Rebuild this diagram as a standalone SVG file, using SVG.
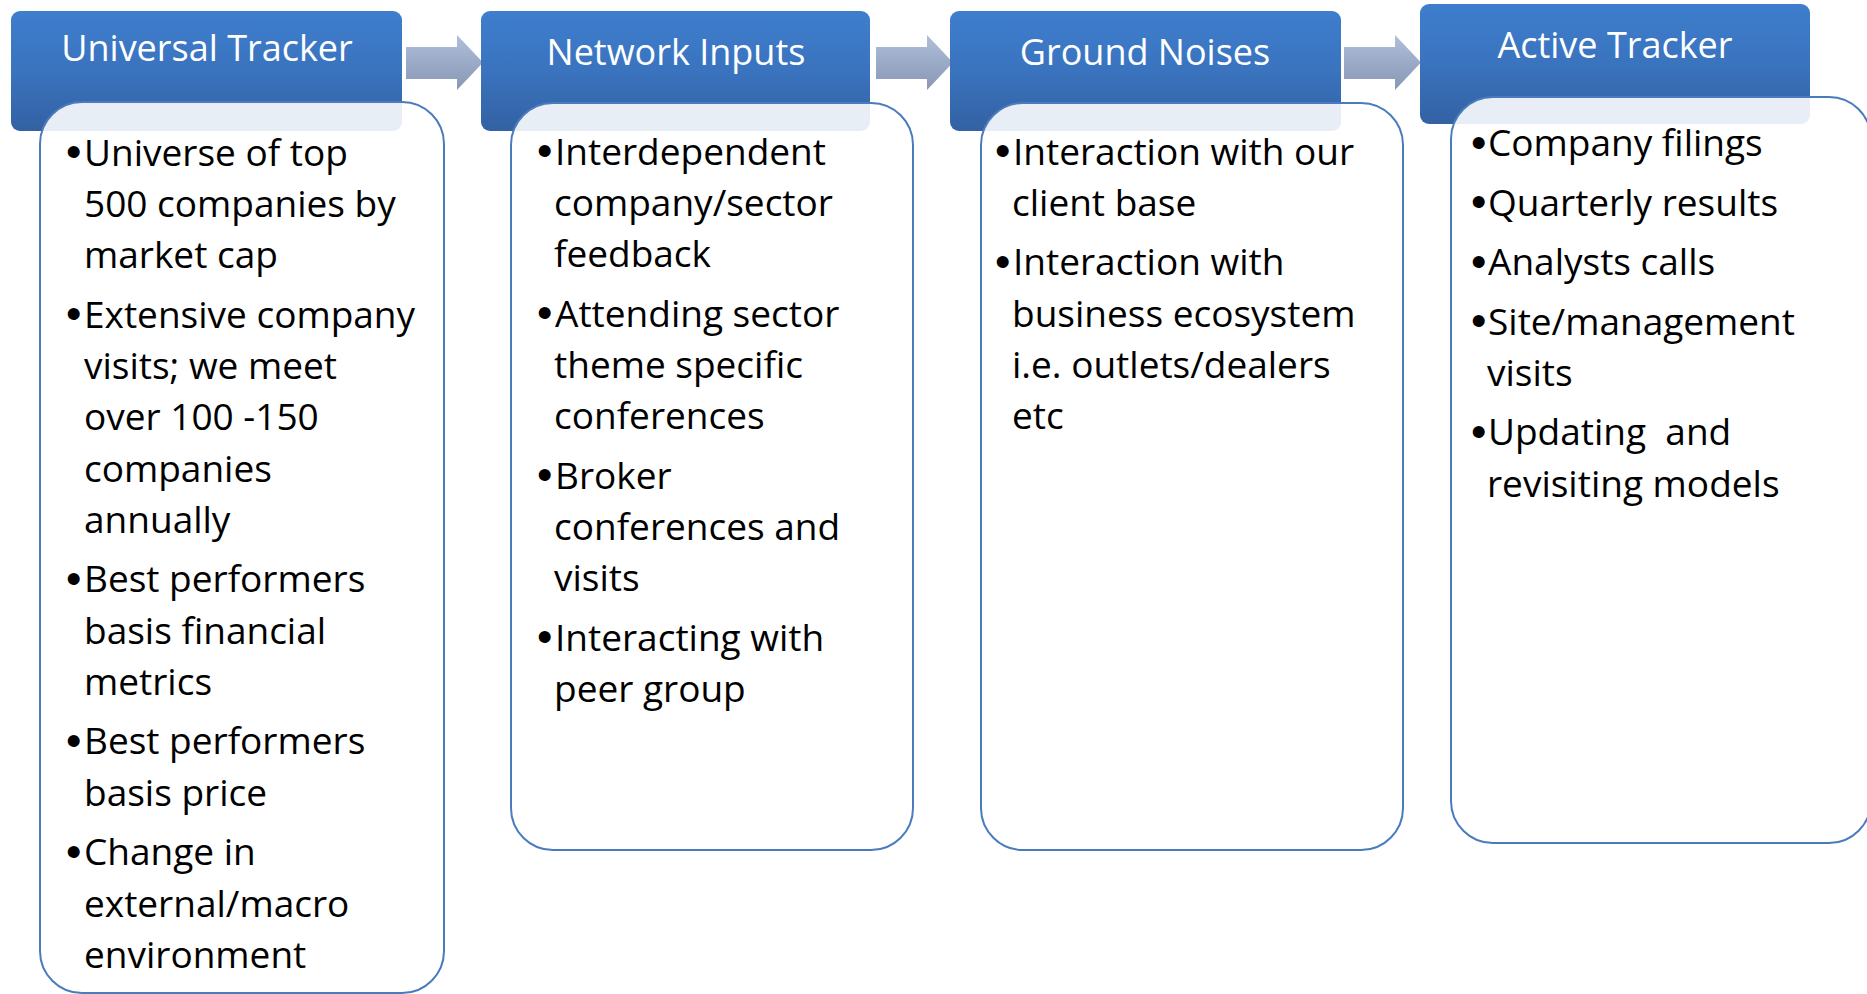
<svg xmlns="http://www.w3.org/2000/svg" width="1867" height="994" viewBox="0 0 1867 994">
<defs>
<linearGradient id="hg" x1="0" y1="0" x2="0" y2="1">
<stop offset="0" stop-color="#3e7ecd"/>
<stop offset="0.5" stop-color="#3a73be"/>
<stop offset="1" stop-color="#3361a3"/>
</linearGradient>
<linearGradient id="ag" x1="0" y1="0" x2="0" y2="1">
<stop offset="0" stop-color="#b0bfda"/>
<stop offset="1" stop-color="#8797b4"/>
</linearGradient>
<style>
.hdr{fill:url(#hg)}
.ht{font-family:"Open Sans","Liberation Sans",sans-serif;font-size:36px;fill:#ffffff;text-anchor:middle}
.bd{fill:#ffffff;fill-opacity:0.89;stroke:#4a7cbd;stroke-width:2}
.bt{font-family:"Open Sans","Liberation Sans",sans-serif;font-size:37px;fill:#000000;white-space:pre}
.bl{font-family:"Liberation Sans",sans-serif;font-size:44px}
.ar{fill:url(#ag)}
</style>
</defs>
<rect width="1867" height="994" fill="#ffffff"/>
<g id="connectors">
<path class="ar" d="M406,47 H457 V35 L483,62.5 L457,90 V79 H406 Z"/>
<path class="ar" d="M876,47 H927 V35 L953,62.5 L927,90 V79 H876 Z"/>
<path class="ar" d="M1344,47 H1395 V35 L1421,62.5 L1395,90 V79 H1344 Z"/>
</g>
<g id="node-universal-tracker">
<rect class="hdr" x="11" y="11" width="391" height="120" rx="9"/>
<text class="ht" x="207" y="61">Universal Tracker</text>
<rect class="bd" x="40" y="102" width="404" height="891" rx="42"/>
<text class="bt">
<tspan class="bl" x="66" y="167">•</tspan><tspan x="84" y="165.5">Universe of top</tspan>
<tspan x="84" y="216.8">500 companies by</tspan>
<tspan x="84" y="268.1">market cap</tspan>
<tspan class="bl" x="66" y="329">•</tspan><tspan x="84" y="327.6">Extensive company</tspan>
<tspan x="84" y="378.9">visits; we meet</tspan>
<tspan x="84" y="430.2">over 100 -150</tspan>
<tspan x="84" y="481.5">companies</tspan>
<tspan x="84" y="532.8">annually</tspan>
<tspan class="bl" x="66" y="593.8">•</tspan><tspan x="84" y="592.3">Best performers</tspan>
<tspan x="84" y="643.6">basis financial</tspan>
<tspan x="84" y="694.9">metrics</tspan>
<tspan class="bl" x="66" y="755.9">•</tspan><tspan x="84" y="754.4">Best performers</tspan>
<tspan x="84" y="805.7">basis price</tspan>
<tspan class="bl" x="66" y="866.7">•</tspan><tspan x="84" y="865.2">Change in</tspan>
<tspan x="84" y="916.5">external/macro</tspan>
<tspan x="84" y="967.8">environment</tspan>
</text>
</g>
<g id="node-network-inputs">
<rect class="hdr" x="481" y="11" width="389" height="120" rx="9"/>
<text class="ht" x="676" y="65">Network Inputs</text>
<rect class="bd" x="511" y="103" width="402" height="747" rx="42"/>
<text class="bt">
<tspan class="bl" x="537" y="166">•</tspan><tspan x="555" y="164.5">Interdependent</tspan>
<tspan x="554" y="215.8">company/sector</tspan>
<tspan x="554" y="267.1">feedback</tspan>
<tspan class="bl" x="537" y="328.1">•</tspan><tspan x="555" y="326.6">Attending sector</tspan>
<tspan x="554" y="377.9">theme specific</tspan>
<tspan x="554" y="429.2">conferences</tspan>
<tspan class="bl" x="537" y="490.2">•</tspan><tspan x="555" y="488.7">Broker</tspan>
<tspan x="554" y="540">conferences and</tspan>
<tspan x="554" y="591.3">visits</tspan>
<tspan class="bl" x="537" y="652.3">•</tspan><tspan x="555" y="650.8">Interacting with</tspan>
<tspan x="554" y="702.1">peer group</tspan>
</text>
</g>
<g id="node-ground-noises">
<rect class="hdr" x="950" y="11" width="391" height="120" rx="9"/>
<text class="ht" x="1145" y="65">Ground Noises</text>
<rect class="bd" x="981" y="103" width="422" height="747" rx="42"/>
<text class="bt">
<tspan class="bl" x="995" y="166">•</tspan><tspan x="1013" y="164.5">Interaction with our</tspan>
<tspan x="1012" y="215.8">client base</tspan>
<tspan class="bl" x="995" y="276.8">•</tspan><tspan x="1013" y="275.3">Interaction with</tspan>
<tspan x="1012" y="326.6">business ecosystem</tspan>
<tspan x="1012" y="377.9">i.e. outlets/dealers</tspan>
<tspan x="1012" y="429.2">etc</tspan>
</text>
</g>
<g id="node-active-tracker">
<rect class="hdr" x="1420" y="4" width="390" height="120" rx="9"/>
<text class="ht" x="1615" y="58">Active Tracker</text>
<rect class="bd" x="1451" y="97" width="420" height="746" rx="42"/>
<text class="bt">
<tspan class="bl" x="1471" y="157.5">•</tspan><tspan x="1488" y="156">Company filings</tspan>
<tspan class="bl" x="1471" y="217">•</tspan><tspan x="1488" y="215.5">Quarterly results</tspan>
<tspan class="bl" x="1471" y="276.5">•</tspan><tspan x="1488" y="275">Analysts calls</tspan>
<tspan class="bl" x="1471" y="336">•</tspan><tspan x="1488" y="334.5">Site/management</tspan>
<tspan x="1487" y="385.8">visits</tspan>
<tspan class="bl" x="1471" y="446.8">•</tspan><tspan x="1488" y="445.3">Updating  and</tspan>
<tspan x="1487" y="496.6">revisiting models</tspan>
</text>
</g>
</svg>
